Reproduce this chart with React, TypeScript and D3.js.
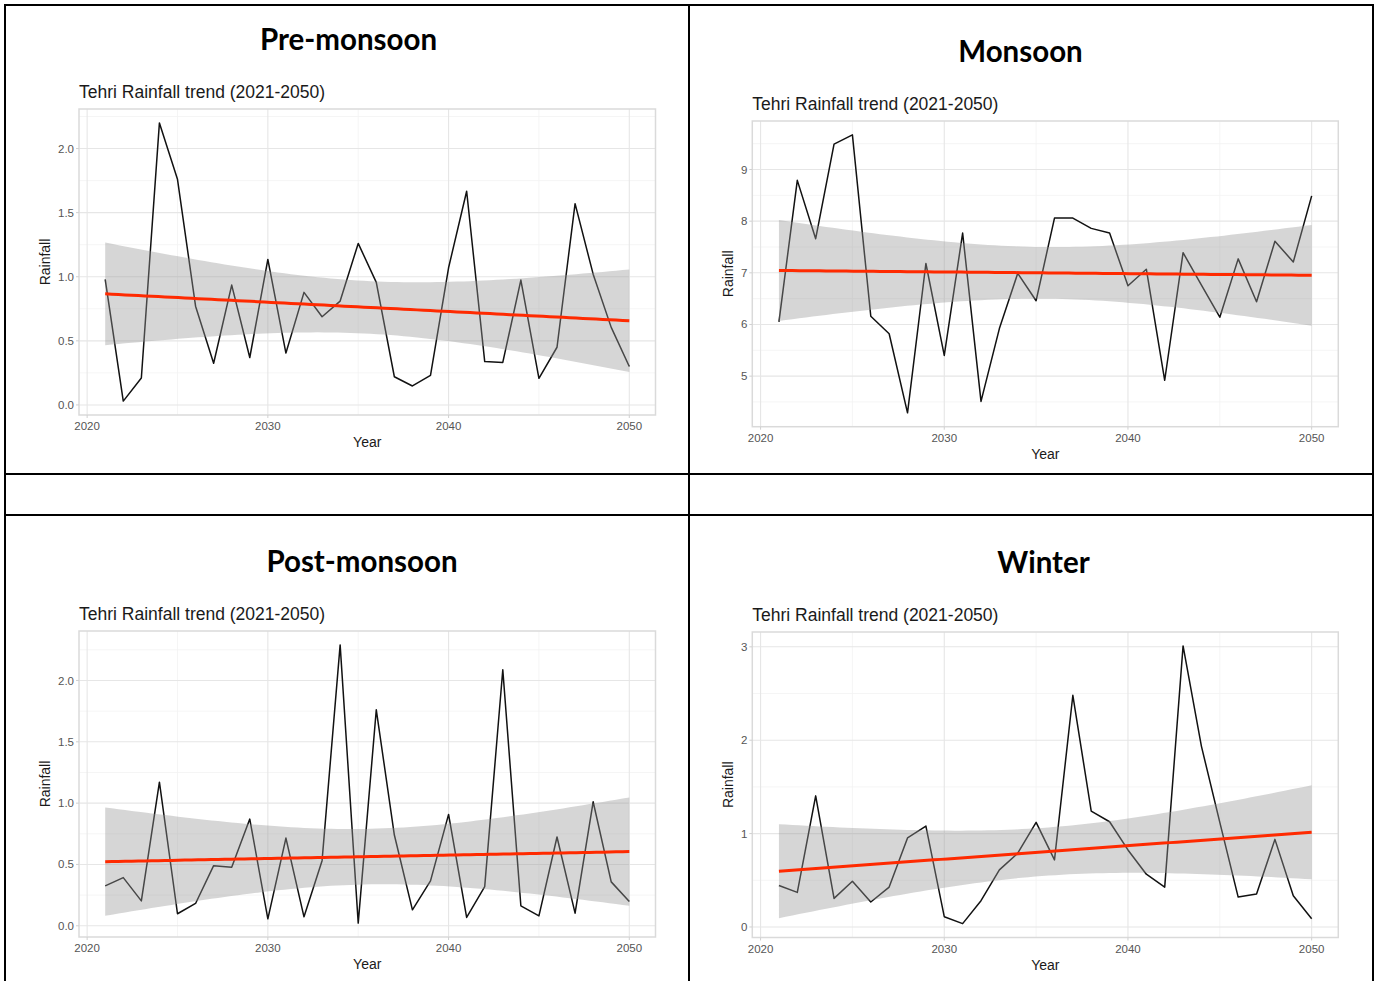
import React, { useEffect } from "react";
import * as d3 from "d3";

// ---------------- DATA ----------------
const years = [
  2021, 2022, 2023, 2024, 2025, 2026, 2027, 2028, 2029, 2030,
  2031, 2032, 2033, 2034, 2035, 2036, 2037, 2038, 2039, 2040,
  2041, 2042, 2043, 2044, 2045, 2046, 2047, 2048, 2049, 2050,
];

const preMonsoon = [
  0.98, 0.03, 0.21, 2.2, 1.76, 0.77, 0.325, 0.935, 0.37, 1.135,
  0.405, 0.878, 0.688, 0.81, 1.26, 0.956, 0.22, 0.148, 0.23, 1.07,
  1.667, 0.338, 0.332, 0.974, 0.208, 0.45, 1.57, 1.02, 0.605, 0.3,
];

const monsoon = [
  6.05, 8.79, 7.66, 9.49, 9.67, 6.16, 5.82, 4.29, 7.18, 5.4,
  7.77, 4.51, 5.92, 6.99, 6.46, 8.06, 8.06, 7.86, 7.77, 6.75,
  7.07, 4.92, 7.39, 6.76, 6.14, 7.27, 6.44, 7.61, 7.21, 8.49,
];

const postMonsoon = [
  0.325, 0.393, 0.203, 1.171, 0.098, 0.182, 0.49, 0.477, 0.87, 0.057,
  0.715, 0.073, 0.531, 2.29, 0.022, 1.761, 0.74, 0.13, 0.366, 0.908,
  0.068, 0.32, 2.087, 0.163, 0.081, 0.724, 0.103, 1.011, 0.358, 0.198,
];

const winter = [
  0.444, 0.37, 1.404, 0.306, 0.49, 0.267, 0.427, 0.953, 1.081, 0.11,
  0.036, 0.281, 0.611, 0.79, 1.12, 0.718, 2.481, 1.24, 1.127, 0.825,
  0.565, 0.427, 3.01, 1.934, 1.12, 0.32, 0.352, 0.938, 0.334, 0.089,
];

const seasonTitles = ["Pre-monsoon", "Monsoon", "Post-monsoon", "Winter"];
const subtitleText = "Tehri Rainfall trend (2021-2050)";
const xAxisTitle = "Year";
const yAxisTitle = "Rainfall";

const xTickValues = [2020, 2030, 2040, 2050];
const preTicks = [0, 0.5, 1.0, 1.5, 2.0];
const monsoonTicks = [5, 6, 7, 8, 9];
const postTicks = [0, 0.5, 1.0, 1.5, 2.0];
const winterTicks = [0, 1, 2, 3];

// ---------------- LAYOUT (positions / styles) ----------------
const W = 1379;
const H = 981;

const layouts = [
  { x0: 79, x1: 655.5, y0: 109, y1: 415, titleX: 348.5, titleY: 50, fmt: ".1f" },
  { x0: 752.3, x1: 1338.3, y0: 121, y1: 426.7, titleX: 1020.5, titleY: 62, fmt: "d" },
  { x0: 79, x1: 655.5, y0: 631, y1: 937, titleX: 362, titleY: 572, fmt: ".1f" },
  { x0: 752.3, x1: 1338.3, y0: 632, y1: 937.5, titleX: 1043.5, titleY: 573, fmt: "d" },
];

const chartFont = "'Liberation Sans', Arial, Helvetica, sans-serif";
const titleFont = "Lato, 'Open Sans', sans-serif";
const T_CRIT = 2.048407; // t(0.975, df = 28)

function linearFit(xs: number[], ys: number[]) {
  const n = xs.length;
  const xm = d3.mean(xs) as number;
  const ym = d3.mean(ys) as number;
  let sxx = 0;
  let sxy = 0;
  for (let i = 0; i < n; i++) {
    sxx += (xs[i] - xm) ** 2;
    sxy += (xs[i] - xm) * (ys[i] - ym);
  }
  const b = sxy / sxx;
  const a = ym - b * xm;
  let sse = 0;
  for (let i = 0; i < n; i++) sse += (ys[i] - (a + b * xs[i])) ** 2;
  const s = Math.sqrt(sse / (n - 2));
  const pts = d3.range(80).map((k) => {
    const xv = xs[0] + ((xs[n - 1] - xs[0]) * k) / 79;
    const fit = a + b * xv;
    const se = s * Math.sqrt(1 / n + (xv - xm) ** 2 / sxx);
    return { x: xv, fit, lo: fit - T_CRIT * se, hi: fit + T_CRIT * se };
  });
  return pts;
}

type PanelProps = {
  values: number[];
  ticks: number[];
  title: string;
  layout: (typeof layouts)[number];
};

function Panel({ values, ticks, title, layout }: PanelProps) {
  const { x0, x1, y0, y1, titleX, titleY, fmt } = layout;
  const fit = linearFit(years, values);

  const xMin = d3.min(years) as number;
  const xMax = d3.max(years) as number;
  const xPad = (xMax - xMin) * 0.05;
  const x = d3.scaleLinear().domain([xMin - xPad, xMax + xPad]).range([x0, x1]);

  const allY = [...values, ...fit.map((p) => p.lo), ...fit.map((p) => p.hi)];
  const yMin = d3.min(allY) as number;
  const yMax = d3.max(allY) as number;
  const yPad = (yMax - yMin) * 0.05;
  const y = d3.scaleLinear().domain([yMin - yPad, yMax + yPad]).range([y1, y0]);

  const [dx0, dx1] = x.domain();
  const [dy0, dy1] = y.domain();

  const xStep = xTickValues[1] - xTickValues[0];
  const xMinor = [xTickValues[0] - xStep / 2, ...xTickValues.map((t) => t + xStep / 2)].filter(
    (t) => t >= dx0 && t <= dx1
  );
  const yStep = ticks[1] - ticks[0];
  const yMinor = [ticks[0] - yStep / 2, ...ticks.map((t) => t + yStep / 2)].filter(
    (t) => t >= dy0 && t <= dy1
  );

  const lineGen = d3
    .line<number>()
    .x((_, i) => x(years[i]))
    .y((d) => y(d));
  const areaGen = d3
    .area<{ x: number; lo: number; hi: number }>()
    .x((d) => x(d.x))
    .y0((d) => y(d.lo))
    .y1((d) => y(d.hi));
  const fitGen = d3
    .line<{ x: number; fit: number }>()
    .x((d) => x(d.x))
    .y((d) => y(d.fit));

  const format = d3.format(fmt);
  const maxLabelW = d3.max(
    ticks.map((t) => format(t).replace(".", "").length * 6.4 + (format(t).includes(".") ? 3.2 : 0))
  ) as number;
  const yTitleX = x0 - 6 - maxLabelW - 12;

  return (
    <g>
      <text
        x={titleX}
        y={titleY}
        textAnchor="middle"
        fontFamily={titleFont}
        fontWeight={700}
        fontSize={29.5}
        fill="#000"
      >
        {title}
      </text>
      <text x={x0} y={y0 - 11} fontFamily={chartFont} fontSize={17.5} fill="#1a1a1a">
        {subtitleText}
      </text>
      <rect x={x0} y={y0} width={x1 - x0} height={y1 - y0} fill="#fff" />
      {xMinor.map((t) => (
        <line key={"xm" + t} x1={x(t)} x2={x(t)} y1={y0} y2={y1} stroke="#f2f2f2" strokeWidth={0.8} />
      ))}
      {yMinor.map((t) => (
        <line key={"ym" + t} x1={x0} x2={x1} y1={y(t)} y2={y(t)} stroke="#f2f2f2" strokeWidth={0.8} />
      ))}
      {xTickValues.map((t) => (
        <line key={"xg" + t} x1={x(t)} x2={x(t)} y1={y0} y2={y1} stroke="#e6e6e6" strokeWidth={1.1} />
      ))}
      {ticks.map((t) => (
        <line key={"yg" + t} x1={x0} x2={x1} y1={y(t)} y2={y(t)} stroke="#e6e6e6" strokeWidth={1.1} />
      ))}
      <path d={lineGen(values) || ""} fill="none" stroke="#111" strokeWidth={1.5} strokeLinejoin="round" />
      <path d={areaGen(fit) || ""} fill="#999999" fillOpacity={0.4} stroke="none" />
      <path d={fitGen(fit) || ""} fill="none" stroke="#ff2a00" strokeWidth={3} />
      <rect
        x={x0}
        y={y0}
        width={x1 - x0}
        height={y1 - y0}
        fill="none"
        stroke="#dadada"
        strokeWidth={1.5}
      />
      {xTickValues.map((t) => (
        <g key={"xt" + t}>
          <line x1={x(t)} x2={x(t)} y1={y1} y2={y1 + 3} stroke="#d0d0d0" strokeWidth={1} />
          <text
            x={x(t)}
            y={y1 + 15}
            textAnchor="middle"
            fontFamily={chartFont}
            fontSize={11.5}
            fill="#555"
          >
            {t}
          </text>
        </g>
      ))}
      {ticks.map((t) => (
        <g key={"yt" + t}>
          <line x1={x0 - 3} x2={x0} y1={y(t)} y2={y(t)} stroke="#d0d0d0" strokeWidth={1} />
          <text
            x={x0 - 5}
            y={y(t)}
            dy="0.35em"
            textAnchor="end"
            fontFamily={chartFont}
            fontSize={11.5}
            fill="#555"
          >
            {format(t)}
          </text>
        </g>
      ))}
      <text
        x={(x0 + x1) / 2}
        y={y1 + 32}
        textAnchor="middle"
        fontFamily={chartFont}
        fontSize={14}
        fill="#1a1a1a"
      >
        {xAxisTitle}
      </text>
      <text
        transform={`translate(${yTitleX},${(y0 + y1) / 2}) rotate(-90)`}
        textAnchor="middle"
        dy="0.35em"
        fontFamily={chartFont}
        fontSize={14}
        fill="#1a1a1a"
      >
        {yAxisTitle}
      </text>
    </g>
  );
}

export default function App() {
  useEffect(() => {
    document.body.style.margin = "0";
  }, []);

  const seriesList = [preMonsoon, monsoon, postMonsoon, winter];
  const tickList = [preTicks, monsoonTicks, postTicks, winterTicks];

  const lineStyle = { stroke: "#000", strokeWidth: 2 };

  return (
    <svg
      width={W}
      height={H}
      style={{ position: "absolute", left: 0, top: 0, background: "#fff" }}
    >
      <rect x={0} y={0} width={W} height={H} fill="#fff" />
      {seriesList.map((vals, i) => (
        <Panel key={i} values={vals} ticks={tickList[i]} title={seasonTitles[i]} layout={layouts[i]} />
      ))}
      {/* table borders */}
      <line x1={4} x2={1374} y1={5} y2={5} {...lineStyle} />
      <line x1={4} x2={1374} y1={474} y2={474} {...lineStyle} />
      <line x1={4} x2={1374} y1={515} y2={515} {...lineStyle} />
      <line x1={5} x2={5} y1={4} y2={H} {...lineStyle} />
      <line x1={689} x2={689} y1={4} y2={H} {...lineStyle} />
      <line x1={1373} x2={1373} y1={4} y2={H} {...lineStyle} />
    </svg>
  );
}
